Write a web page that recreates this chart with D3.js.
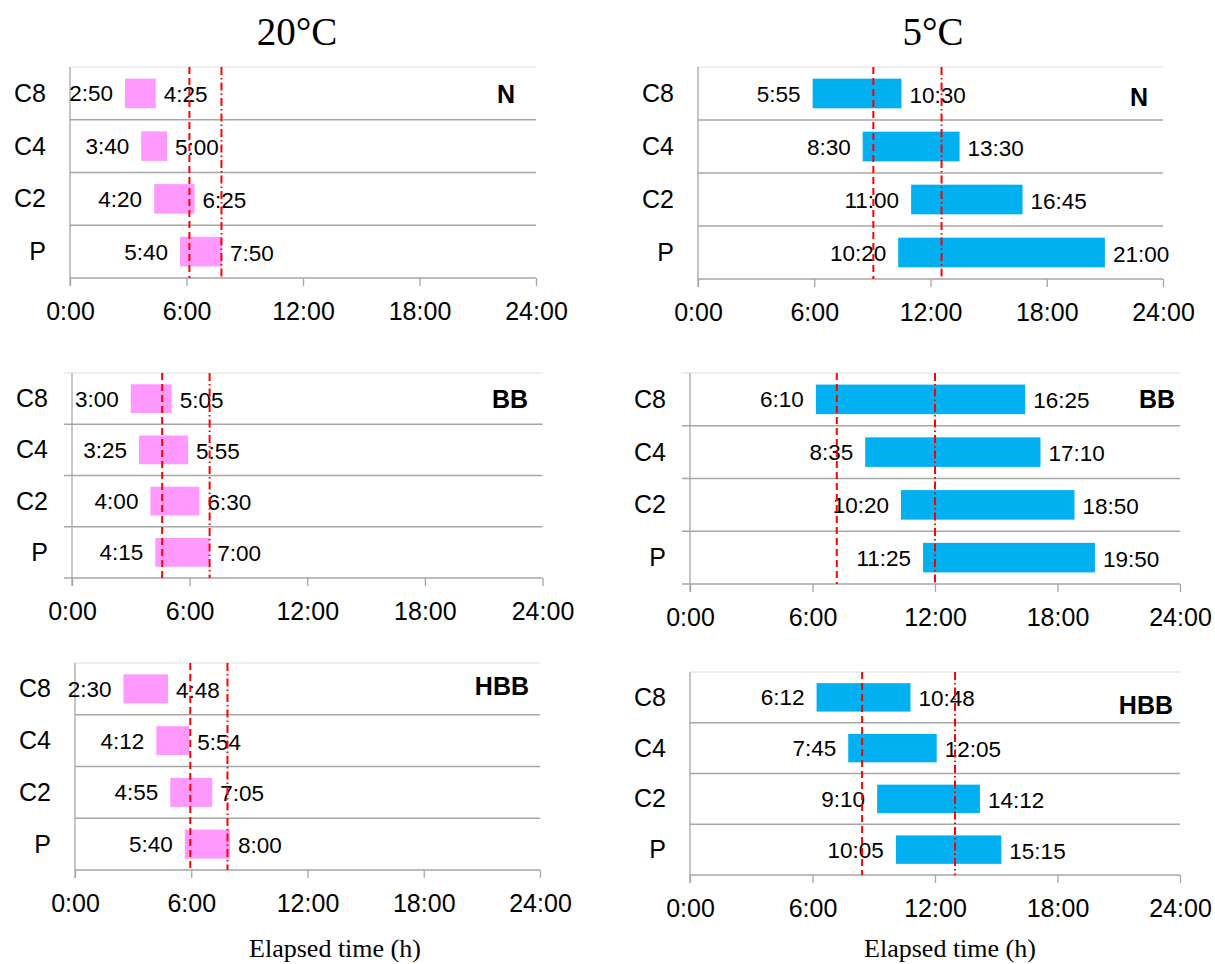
<!DOCTYPE html>
<html>
<head>
<meta charset="utf-8">
<script src="https://cdn.jsdelivr.net/npm/d3@7"></script>
<style>
  html, body { margin: 0; padding: 0; background: #fff; }
  svg { display: block; }
</style>
</head>
<body>
<svg id="chart" width="1215" height="964"></svg>
<script>
// ---------------- DATA ----------------
const categories = ["C8", "C4", "C2", "P"];
const tickLabels = ["0:00", "6:00", "12:00", "18:00", "24:00"];
const tickHours = [0, 6, 12, 18, 24];
const temperatures = ["20°C", "5°C"];
const treatments = ["N", "BB", "HBB"];

// 20°C
const n20Start  = ["2:50", "3:40", "4:20", "5:40"];
const n20End    = ["4:25", "5:00", "6:25", "7:50"];
const n20Lines  = [6.15, 7.8];
const bb20Start = ["3:00", "3:25", "4:00", "4:15"];
const bb20End   = ["5:05", "5:55", "6:30", "7:00"];
const bb20Lines = [4.6, 7.02];
const hbb20Start = ["2:30", "4:12", "4:55", "5:40"];
const hbb20End   = ["4:48", "5:54", "7:05", "8:00"];
const hbb20Lines = [5.95, 7.87];

// 5°C
const n5Start  = ["5:55", "8:30", "11:00", "10:20"];
const n5End    = ["10:30", "13:30", "16:45", "21:00"];
const n5Lines  = [9.05, 12.57];
const bb5Start = ["6:10", "8:35", "10:20", "11:25"];
const bb5End   = ["16:25", "17:10", "18:50", "19:50"];
const bb5Lines = [7.19, 12.0];
const hbb5Start = ["6:12", "7:45", "9:10", "10:05"];
const hbb5End   = ["10:48", "12:05", "14:12", "15:15"];
const hbb5Lines = [8.43, 12.98];

const axisTitle = "Elapsed time (h)";

// ---------------- HELPERS ----------------
const toHours = s => { const [h, m] = s.split(":").map(Number); return h + m / 60; };

const SANS = "'Liberation Sans', Arial, Helvetica, sans-serif";
const SERIF = "'Liberation Serif', 'Times New Roman', serif";
const PINK = "#FF99FF";
const BLUE = "#00B0F0";

const svg = d3.select("#chart");

const panels = [
  { start: n20Start,  end: n20End,  lines: n20Lines,  label: treatments[0], color: PINK,
    x0: 70, x1: 536, yTop: 67, yAxis: 278, leftTick: 0, labelRight: 515, labelBase: 103 },
  { start: n5Start,   end: n5End,   lines: n5Lines,   label: treatments[0], color: BLUE,
    x0: 698, x1: 1163, yTop: 67, yAxis: 279, leftTick: 0, labelRight: 1148, labelBase: 106 },
  { start: bb20Start, end: bb20End, lines: bb20Lines, label: treatments[1], color: PINK,
    x0: 72, x1: 542.5, yTop: 373, yAxis: 578, leftTick: 8, labelRight: 528, labelBase: 408 },
  { start: bb5Start,  end: bb5End,  lines: bb5Lines,  label: treatments[1], color: BLUE,
    x0: 690, x1: 1180, yTop: 373, yAxis: 584, leftTick: 8, labelRight: 1175, labelBase: 408 },
  { start: hbb20Start, end: hbb20End, lines: hbb20Lines, label: treatments[2], color: PINK,
    x0: 75, x1: 540, yTop: 663, yAxis: 870, leftTick: 0, labelRight: 529, labelBase: 695 },
  { start: hbb5Start,  end: hbb5End,  lines: hbb5Lines,  label: treatments[2], color: BLUE,
    x0: 690, x1: 1180, yTop: 672, yAxis: 875, leftTick: 0, labelRight: 1173, labelBase: 714 }
];

panels.forEach(p => {
  const g = svg.append("g");
  const x = d3.scaleLinear().domain([0, 24]).range([p.x0, p.x1]);
  const y = d3.scaleBand().domain(categories).range([p.yTop, p.yAxis]).paddingInner(0).paddingOuter(0);

  // top border (light)
  g.append("line")
    .attr("x1", p.x0 - p.leftTick).attr("x2", p.x1)
    .attr("y1", p.yTop).attr("y2", p.yTop)
    .attr("stroke", "#dedede").attr("stroke-width", 1.2);

  // row dividers
  g.selectAll("line.div").data(categories.slice(1)).join("line")
    .attr("class", "div")
    .attr("x1", p.x0 - p.leftTick).attr("x2", p.x1)
    .attr("y1", d => y(d)).attr("y2", d => y(d))
    .attr("stroke", "#a6a6a6").attr("stroke-width", 1.3);

  // x axis
  const xAxis = d3.axisBottom(x).tickValues(tickHours)
    .tickFormat((d, i) => tickLabels[i]).tickSizeInner(8).tickSizeOuter(0).tickPadding(8);
  const ax = g.append("g").attr("transform", `translate(0,${p.yAxis})`).call(xAxis);
  ax.select(".domain").attr("stroke", "#a6a6a6").attr("stroke-width", 1.3)
    .attr("d", `M${p.x0 - p.leftTick},0H${p.x1}`);
  ax.selectAll(".tick line").attr("stroke", "#a6a6a6").attr("stroke-width", 1.3);
  ax.selectAll(".tick text")
    .attr("font-family", SANS).attr("font-size", 25).attr("fill", "#000")
    .attr("dy", "1.05em");

  // y axis line
  g.append("line")
    .attr("x1", p.x0).attr("x2", p.x0)
    .attr("y1", p.yTop).attr("y2", p.yAxis + 8)
    .attr("stroke", "#a6a6a6").attr("stroke-width", 1.3);

  // category labels
  g.selectAll("text.cat").data(categories).join("text")
    .attr("class", "cat")
    .attr("x", p.x0 - 24)
    .attr("y", d => y(d) + y.bandwidth() / 2 + 8.5)
    .attr("text-anchor", "end")
    .attr("font-family", SANS).attr("font-size", 25).attr("fill", "#000")
    .text(d => d);

  const rows = categories.map((c, i) => ({ cat: c, s: p.start[i], e: p.end[i] }));
  const bh = y.bandwidth() * 0.56;

  // bars
  g.selectAll("rect.bar").data(rows).join("rect")
    .attr("class", "bar")
    .attr("x", d => x(toHours(d.s)))
    .attr("width", d => x(toHours(d.e)) - x(toHours(d.s)))
    .attr("y", d => y(d.cat) + (y.bandwidth() - bh) / 2)
    .attr("height", bh)
    .attr("fill", p.color);

  // start labels
  g.selectAll("text.sl").data(rows).join("text")
    .attr("class", "sl")
    .attr("x", d => x(toHours(d.s)) - 12)
    .attr("y", d => y(d.cat) + y.bandwidth() / 2 + 8)
    .attr("text-anchor", "end")
    .attr("font-family", SANS).attr("font-size", 22.5).attr("fill", "#000")
    .text(d => d.s);

  // end labels
  g.selectAll("text.el").data(rows).join("text")
    .attr("class", "el")
    .attr("x", d => x(toHours(d.e)) + 8)
    .attr("y", d => y(d.cat) + y.bandwidth() / 2 + 9)
    .attr("text-anchor", "start")
    .attr("font-family", SANS).attr("font-size", 22.5).attr("fill", "#000")
    .text(d => d.e);

  // red reference lines
  const dashes = ["7,4", "8,3,1.5,3"];
  g.selectAll("line.ref").data(p.lines).join("line")
    .attr("class", "ref")
    .attr("x1", d => x(d)).attr("x2", d => x(d))
    .attr("y1", p.yTop).attr("y2", p.yAxis)
    .attr("stroke", "#FF0000").attr("stroke-width", 2)
    .attr("stroke-dasharray", (d, i) => dashes[i]);

  // treatment label
  g.append("text")
    .attr("x", p.labelRight).attr("y", p.labelBase)
    .attr("text-anchor", "end")
    .attr("font-family", SANS).attr("font-weight", "bold").attr("font-size", 25)
    .attr("fill", "#000")
    .text(p.label);
});

// column titles
svg.selectAll("text.title").data(temperatures).join("text")
  .attr("class", "title")
  .attr("x", (d, i) => [297, 933][i]).attr("y", 45)
  .attr("text-anchor", "middle")
  .attr("font-family", SERIF).attr("font-size", 39).attr("fill", "#000")
  .text(d => d);

// axis titles
svg.selectAll("text.xt").data([335, 950]).join("text")
  .attr("class", "xt")
  .attr("x", d => d).attr("y", 957)
  .attr("text-anchor", "middle")
  .attr("font-family", SERIF).attr("font-size", 26).attr("fill", "#000")
  .text(axisTitle);
</script>
</body>
</html>
